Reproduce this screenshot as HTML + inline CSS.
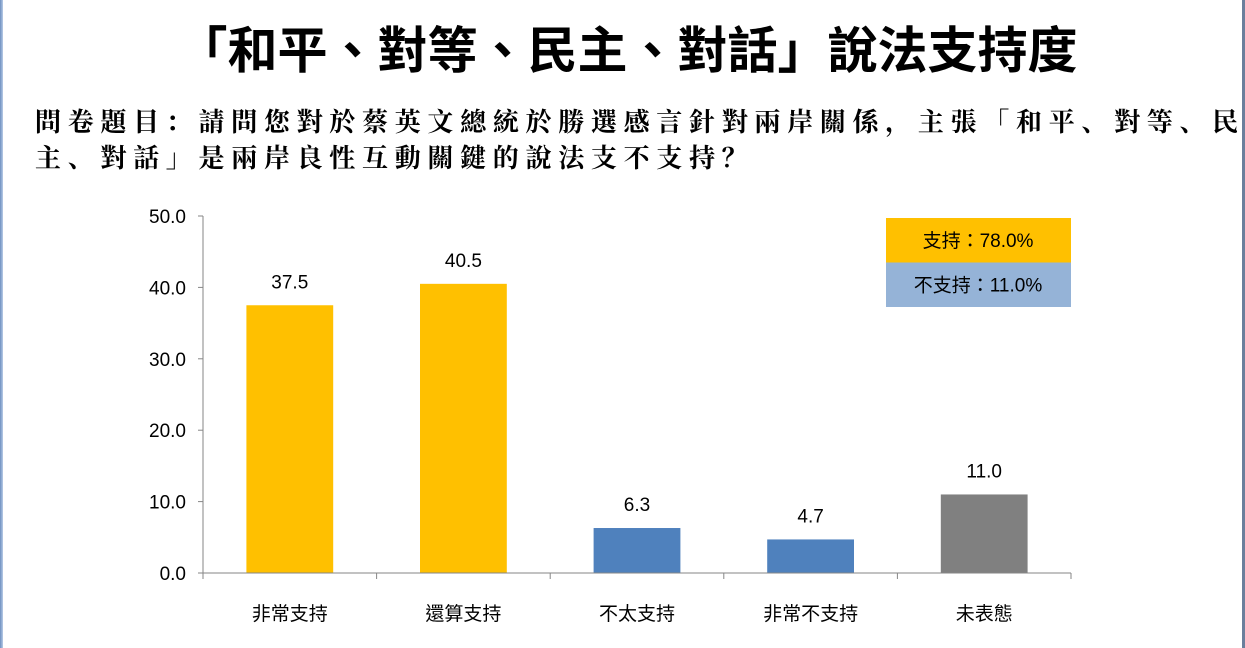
<!DOCTYPE html>
<html><head><meta charset="utf-8">
<style>
body{margin:0;width:1245px;height:648px;background:#fff;overflow:hidden;position:relative;font-family:"Liberation Sans","Noto Sans CJK TC",sans-serif}
#lb{position:absolute;left:0;top:0;width:3px;height:648px;background:linear-gradient(90deg,#6d8fc0,#b8cbe6)}
#rb{position:absolute;left:1242px;top:0;width:3px;height:648px;background:#6b7f9c}
#title{position:absolute;left:0;width:1245px;top:18px;text-align:center;font-size:50px;font-weight:bold;font-family:"Liberation Sans","Noto Sans CJK TC",sans-serif;line-height:66px;padding-left:10px;box-sizing:border-box}
.sub{position:absolute;left:35px;font-family:"Liberation Serif","Noto Serif CJK SC",serif;font-weight:bold;font-size:26px;letter-spacing:6.7px;white-space:nowrap;line-height:34px}
</style></head><body>
<div id="lb"></div>
<div id="rb"></div>
<div id="title">「和平、對等、民主、對話」說法支持度</div>
<div class="sub" style="top:106px">問卷題目：請問您對於蔡英文總統於勝選感言針對兩岸關係，主張「和平、對等、民</div>
<div class="sub" style="top:142px">主、對話」是兩岸良性互動關鍵的說法支不支持？</div>
<svg id="chart" width="1245" height="648" style="position:absolute;left:0;top:0"></svg>
<script>
const categories=["非常支持","還算支持","不太支持","非常不支持","未表態"];
const values=[37.5,40.5,6.3,4.7,11.0];
const colors=["#ffc000","#ffc000","#4f81bd","#4f81bd","#808080"];
const yTicks=[0,10,20,30,40,50];
const legendLabels=["支持：78.0%","不支持：11.0%"];
const legendColors=["#ffc000","#95b3d7"];
const svg=document.getElementById('chart');
const NS='http://www.w3.org/2000/svg';
const x0=203,x1=1071,y0=573,y1=216,ymax=50;
const y=v=>y0-(v/ymax)*(y0-y1);
const bw=(x1-x0)/categories.length;
const xc=i=>x0+bw*(i+0.5);
function mk(t,a){const e=document.createElementNS(NS,t);for(const k in a)e.setAttribute(k,a[k]);svg.appendChild(e);return e;}
let e;
yTicks.forEach(t=>{
 e=mk('line',{x1:x0-5,x2:x0,y1:y(t),y2:y(t),stroke:'#868686'});
 
 
 e=mk('text',{x:x0-17,y:y(t)+7,'text-anchor':'end','font-size':19,fill:'#000'});
 e.textContent=t.toFixed(1);
 
 
});
e=mk('line',{x1:x0,x2:x0,y1:y1,y2:y0,stroke:'#868686'});


categories.forEach((c,i)=>{
 const h=y0-y(values[i]);
 e=mk('rect',{x:xc(i)-bw/4,y:y(values[i]),width:bw/2,height:h,fill:colors[i]});
 
 
 e=mk('text',{x:xc(i),y:y(values[i])-17,'text-anchor':'middle','font-size':19});
 e.textContent=values[i].toFixed(1);
 
 
 e=mk('text',{x:xc(i),y:620,'text-anchor':'middle','font-size':19});
 e.textContent=c;
 
 
});
for(let i=0;i<=categories.length;i++){
 e=mk('line',{x1:x0+bw*i,x2:x0+bw*i,y1:y0,y2:y0+6,stroke:'#868686'});
 
 
}
e=mk('line',{x1:x0,x2:x1,y1:y0,y2:y0,stroke:'#868686'});


legendLabels.forEach((l,i)=>{
 e=mk('rect',{x:886,y:218+i*44.5,width:185,height:44.5,fill:legendColors[i]});
 
 
 e=mk('text',{x:978,y:247+i*44.5,'text-anchor':'middle','font-size':19});
 e.textContent=l;
 
 
});
</script>
</body></html>
